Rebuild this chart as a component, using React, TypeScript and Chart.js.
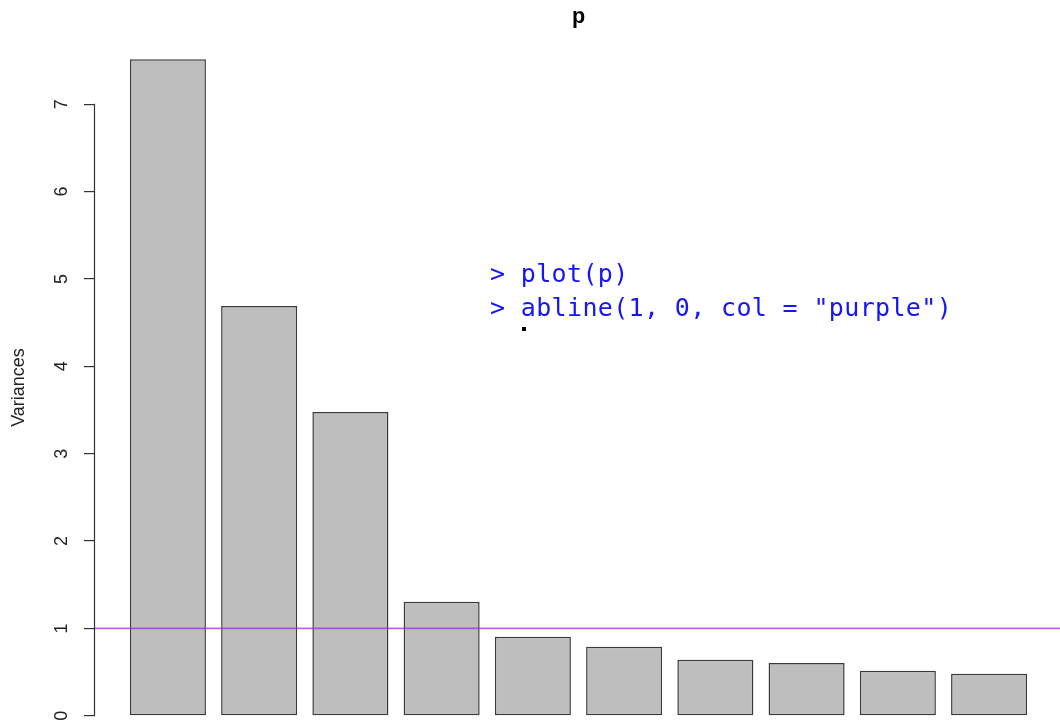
import React, { useEffect, useRef } from "react";
import { Chart, registerables } from "chart.js";

Chart.register(...registerables);

// ---- data ----
const components = ["Comp.1", "Comp.2", "Comp.3", "Comp.4", "Comp.5", "Comp.6", "Comp.7", "Comp.8", "Comp.9", "Comp.10"];
const variances = [7.515, 4.69, 3.477, 1.305, 0.904, 0.79, 0.64, 0.605, 0.515, 0.48];
const chartTitle = "p";
const yAxisTitle = "Variances";
const refLineValue = 1;
const refLineColor = "rgba(160, 32, 240, 0.7)";
const consoleLines = ["> plot(p)", '> abline(1, 0, col = "purple")'];

// R barplot defaults
const barSpace = 0.2;
const barWidthUnits = 1;
const rExt = 0.04;

const AXIS_FONT = "'Liberation Sans', Arial, Helvetica, sans-serif";

export default function App() {
  const canvasRef = useRef<HTMLCanvasElement | null>(null);

  useEffect(() => {
    const canvas = canvasRef.current;
    if (!canvas) return;

    const n = variances.length;
    const xLo = barSpace;
    const xHi = n * (barWidthUnits + barSpace);
    const xMin = xLo - rExt * (xHi - xLo);
    const xMax = xHi + rExt * (xHi - xLo);
    const yHi = Math.max(...variances);
    const yMin = -rExt * yHi;
    const yMax = yHi + rExt * yHi;

    const decorPlugin = {
      id: "rdecor",
      afterDatasetsDraw(chart: any) {
        const { ctx, chartArea, scales } = chart;
        const y = scales.y;
        const py = y.getPixelForValue(refLineValue);
        ctx.save();
        ctx.strokeStyle = refLineColor;
        ctx.lineWidth = 1.8;
        ctx.beginPath();
        ctx.moveTo(chartArea.left, py);
        ctx.lineTo(chartArea.right, py);
        ctx.stroke();
        ctx.restore();
      },
      afterDraw(chart: any) {
        const { ctx, chartArea, scales } = chart;
        const y = scales.y;
        const ticks = y.ticks;
        const x = Math.round(chartArea.left) + 0.5;
        ctx.save();
        ctx.strokeStyle = "#333";
        ctx.lineWidth = 1.2;
        ctx.beginPath();
        ctx.moveTo(x, y.getPixelForValue(ticks[0].value) + 0.5);
        ctx.lineTo(x, y.getPixelForValue(ticks[ticks.length - 1].value) - 0.5);
        ctx.stroke();
        ctx.fillStyle = "#000";
        ctx.font = `bold 21.6px ${AXIS_FONT}`;
        ctx.textAlign = "center";
        ctx.textBaseline = "alphabetic";
        ctx.fillText(chartTitle, (chartArea.left + chartArea.right) / 2, 23);
        ctx.restore();
      },
    };

    const chart = new Chart(canvas, {
      type: "bar",
      data: {
        labels: components,
        datasets: [
          {
            label: yAxisTitle,
            data: variances.map((v, i) => ({
              x: barSpace + i * (barWidthUnits + barSpace) + barWidthUnits / 2,
              y: v,
            })),
            backgroundColor: "#BEBEBE",
            borderColor: "#3a3a3a",
            borderWidth: 1.5,
            borderSkipped: false,
            barPercentage: 1,
            categoryPercentage: barWidthUnits / (barWidthUnits + barSpace),
          } as any,
        ],
      },
      options: {
        animation: false,
        responsive: true,
        maintainAspectRatio: false,
        layout: { padding: { top: 33, right: 0, bottom: 0, left: 0 } },
        plugins: {
          legend: { display: false },
          tooltip: { enabled: false },
          title: { display: false },
        },
        scales: {
          x: {
            type: "linear",
            min: xMin,
            max: xMax,
            offset: false,
            display: false,
          },
          y: {
            type: "linear",
            min: yMin,
            max: yMax,
            afterFit: (s: any) => {
              s.width = 94;
              s.paddingTop = 0;
              s.paddingBottom = 0;
            },
            border: { display: false },
            grid: {
              drawOnChartArea: false,
              drawTicks: true,
              tickLength: 10,
              tickColor: "#333",
              lineWidth: 1.2,
            },
            ticks: {
              stepSize: 1,
              includeBounds: false,
              minRotation: 90,
              maxRotation: 90,
              crossAlign: "center",
              padding: 17,
              color: "#222",
              font: { family: AXIS_FONT, size: 18 },
            },
            title: {
              display: true,
              text: yAxisTitle,
              color: "#222",
              font: { family: AXIS_FONT, size: 18 },
              padding: { top: 8, bottom: 0 },
            },
          },
        },
      } as any,
      plugins: [decorPlugin],
    });

    return () => chart.destroy();
  }, []);

  return (
    <div
      style={{
        position: "fixed",
        left: 0,
        top: 0,
        width: 1060,
        height: 721,
        overflow: "hidden",
        background: "#fff",
      }}
    >
      <div style={{ position: "absolute", left: 0, top: 0, width: 1063, height: 742 }}>
        <canvas ref={canvasRef} />
      </div>
      <div
        style={{
          position: "absolute",
          left: 490,
          top: 257,
          fontFamily: "'DejaVu Sans Mono', 'Liberation Mono', monospace",
          fontSize: 25,
          letterSpacing: "0.35px",
          lineHeight: "34px",
          color: "#1515f5",
          whiteSpace: "pre",
        }}
      >
        {consoleLines.map((l, i) => (
          <div key={i}>{l}</div>
        ))}
      </div>
      <div
        style={{
          position: "absolute",
          left: 522,
          top: 327,
          width: 4,
          height: 4,
          background: "#000",
        }}
      />
    </div>
  );
}
